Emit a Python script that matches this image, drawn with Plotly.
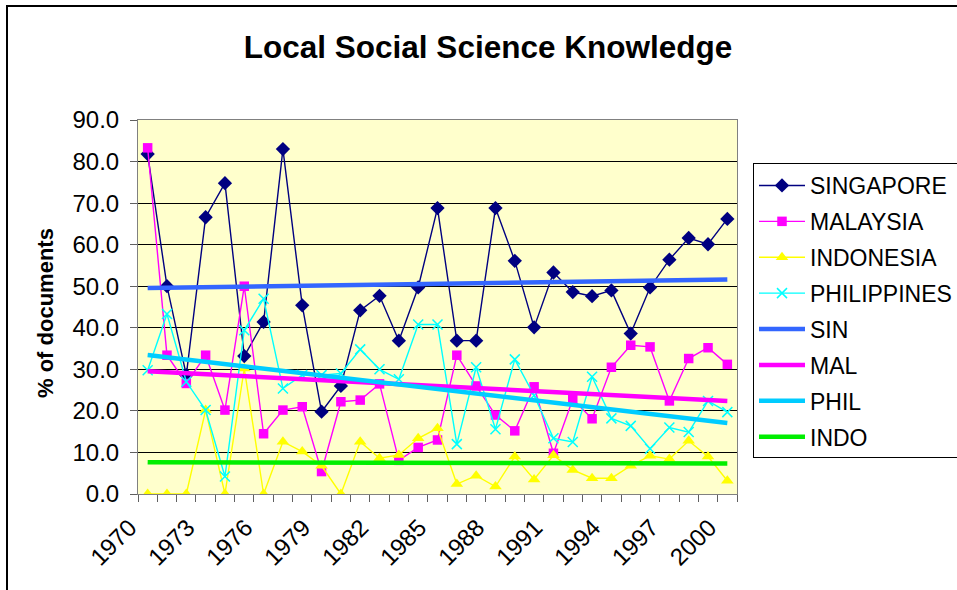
import numpy as np
import plotly.graph_objects as go

years = list(range(1970, 2001))

singapore = [81.8, 50.0, 28.6, 66.6, 74.8, 33.2, 41.4, 83.0, 45.4, 19.8, 26.0,
             44.2, 47.7, 36.9, 49.7, 68.8, 36.9, 36.9, 68.8, 56.1, 40.1,
             53.3, 48.6, 47.6, 49.0, 38.6, 49.7, 56.4, 61.6, 60.1, 66.2]
malaysia = [83.3, 33.4, 26.6, 33.4, 20.2, 50.0, 14.5, 20.2, 21.0, 5.4, 22.2,
            22.6, 26.5, 8.1, 11.2, 13.0, 33.4, 26.0, 19.0, 15.2, 25.8,
            9.8, 22.8, 18.1, 30.5, 35.8, 35.4, 22.4, 32.6, 35.2, 31.2]
indonesia = [0.0, 0.0, 0.0, 20.2, 0.0, 30.2, 0.0, 12.6, 10.2, 6.8, 0.0,
             12.6, 8.6, 9.4, 13.4, 15.8, 2.4, 4.4, 1.8, 9.0, 3.5,
             9.3, 5.8, 3.8, 3.8, 6.8, 9.2, 8.4, 12.8, 9.0, 3.2]
philippines = [29.8, 43.3, 27.0, 20.2, 4.2, 39.4, 47.0, 25.4, 28.6, 28.6, 29.0,
               34.8, 30.0, 27.6, 40.8, 40.8, 12.0, 30.5, 15.6, 32.4, 23.7,
               13.4, 12.5, 28.2, 18.2, 16.4, 10.9, 16.0, 14.9, 22.4, 19.7]

tick_years = list(range(1970, 2001, 3))
y_ticks = [0, 10, 20, 30, 40, 50, 60, 70, 80, 90]
# category boundaries for the tick marks between years
boundaries = [y - 0.5 for y in years] + [years[-1] + 0.5]

series = [
    ("SINGAPORE", singapore, "#000080", "diamond", 11, "#000080"),
    ("MALAYSIA", malaysia, "#FF00FF", "square", 9.5, "#FF00FF"),
    ("INDONESIA", indonesia, "#FFFF00", "triangle-up", 11, "#FFFF00"),
    ("PHILIPPINES", philippines, "#00FFFF", "x-thin", 10, "#00FFFF"),
]
trends = [
    ("SIN", singapore, "#3366FF"),
    ("MAL", malaysia, "#FF00FF"),
    ("PHIL", philippines, "#00CCFF"),
    ("INDO", indonesia, "#00EE00"),
]

fig = go.Figure()
for i, (name, vals, col, sym, sz, lc) in enumerate(series):
    fig.add_trace(go.Scatter(
        x=years, y=vals, name=name, mode="lines+markers",
        line=dict(color=col, width=1.4),
        marker=dict(symbol=sym, size=sz, color=col,
                    line=dict(color=lc, width=1.5 if sym == "x-thin" else 0)),
        legendgroup="g%d" % i,
    ))

xs = np.array(years, dtype=float)
for j, (name, vals, col) in enumerate(trends):
    slope, inter = np.polyfit(xs, np.array(vals), 1)
    ends = [years[0], years[-1]]
    fig.add_trace(go.Scatter(
        x=ends, y=[slope * e + inter for e in ends], name=name, mode="lines",
        line=dict(color=col, width=4.5),
        legendgroup="t%d" % j, xaxis="x2",
    ))

W, H = 957, 590
L, R, T, B = 138, 220, 120, 96
pw, ph = W - L - R, H - T - B

def px(xp):
    return (xp - L) / pw

def py(yp):
    return (H - B - yp) / ph

xrange_ = [years[0] - 0.5, years[-1] + 0.5]

fig.update_layout(
    width=W, height=H,
    margin=dict(l=L, r=R, t=T, b=B),
    paper_bgcolor="white",
    plot_bgcolor="#FFFFCC",
    font=dict(family="Liberation Sans, Arial, sans-serif", color="black", size=20),
    title=dict(text="<b>Local Social Science Knowledge</b>",
               x=488 / W, xref="container", xanchor="center",
               y=1 - 47 / H, yref="container", yanchor="middle",
               font=dict(size=31.5, color="black")),
    xaxis=dict(
        range=xrange_,
        tickmode="array", tickvals=tick_years, ticktext=[str(t) for t in tick_years],
        tickangle=-45, ticks="", showgrid=False, zeroline=False,
        tickfont=dict(size=24),
        ticklabelstandoff=9, ticklabelshift=-18,
        showline=True, linecolor="#808080", linewidth=1, mirror=True,
    ),
    xaxis2=dict(
        range=xrange_, overlaying="x", anchor="y", side="bottom",
        tickmode="array", tickvals=boundaries, showticklabels=False,
        ticks="outside", ticklen=7, tickcolor="#606060",
        showgrid=False, zeroline=False, showline=False,
    ),
    yaxis=dict(
        range=[0, 90], tickmode="array", tickvals=y_ticks,
        ticktext=["%.1f" % v for v in y_ticks],
        ticks="outside", ticklen=7, tickcolor="#606060",
        showgrid=True, gridcolor="black", gridwidth=1, zeroline=False,
        tickfont=dict(size=24), ticklabelstandoff=6,
        showline=True, linecolor="#808080", linewidth=1, mirror=True,
    ),
    legend=dict(
        xref="container", yref="container",
        x=753 / W, y=1 - 163 / H, xanchor="left", yanchor="top",
        bordercolor="black", borderwidth=1, bgcolor="white",
        font=dict(size=23, color="black"),
        traceorder="grouped", tracegroupgap=3,
        itemwidth=46,
    ),
    showlegend=True,
    annotations=[dict(
        text="<b>% of documents</b>", textangle=-90,
        x=px(45), y=py(313), xref="paper", yref="paper",
        showarrow=False, font=dict(size=22, color="black"),
        xanchor="center", yanchor="middle",
    )],
    shapes=[dict(
        type="rect", xref="paper", yref="paper",
        x0=px(7), x1=px(1000), y0=py(640), y1=py(6),
        line=dict(color="black", width=2), fillcolor="rgba(0,0,0,0)", layer="below",
    )],
)

fig.write_html("out.html", config={"displayModeBar": False},
               post_script="document.body.style.margin='0';")
